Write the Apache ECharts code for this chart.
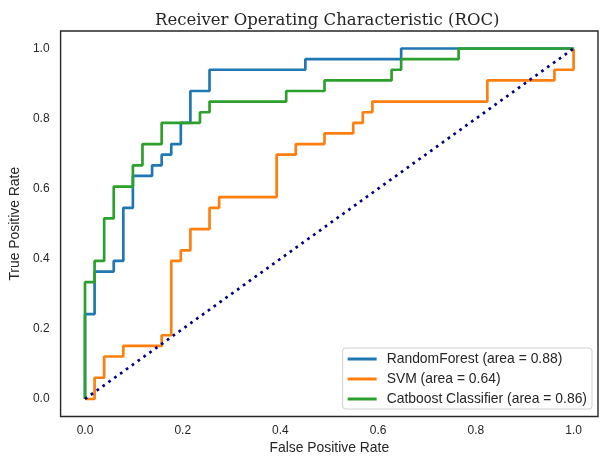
<!DOCTYPE html>
<html>
<head>
<meta charset="utf-8">
<script src="https://cdn.jsdelivr.net/npm/echarts@6/dist/echarts.min.js"></script>
<style>
html,body{margin:0;padding:0;background:#fff;}
#chart{width:609px;height:465px;}
</style>
</head>
<body>
<div id="chart"></div>
<script>
// Tick labels
var tickValues = [0.0, 0.2, 0.4, 0.6, 0.8, 1.0];

// RandomForest ROC (area = 0.88)
var rfFpr = [0, 0, 0.0196, 0.0196, 0.0588, 0.0588, 0.0784, 0.0784, 0.098, 0.098, 0.1373, 0.1373, 0.1569, 0.1569, 0.1765, 0.1765, 0.1961, 0.1961, 0.2157, 0.2157, 0.2549, 0.2549, 0.451, 0.451, 0.6471, 0.6471, 1.0];
var rfTpr = [0, 0.2424, 0.2424, 0.3636, 0.3636, 0.3939, 0.3939, 0.5455, 0.5455, 0.6364, 0.6364, 0.6667, 0.6667, 0.697, 0.697, 0.7273, 0.7273, 0.7879, 0.7879, 0.8788, 0.8788, 0.9394, 0.9394, 0.9697, 0.9697, 1.0, 1.0];

// SVM ROC (area = 0.64)
var svmFpr = [0, 0.0196, 0.0196, 0.0392, 0.0392, 0.0784, 0.0784, 0.1569, 0.1569, 0.1765, 0.1765, 0.1961, 0.1961, 0.2157, 0.2157, 0.2549, 0.2549, 0.2745, 0.2745, 0.3922, 0.3922, 0.4314, 0.4314, 0.4902, 0.4902, 0.549, 0.549, 0.5686, 0.5686, 0.5882, 0.5882, 0.8235, 0.8235, 0.9608, 0.9608, 1.0, 1.0];
var svmTpr = [0, 0, 0.0606, 0.0606, 0.1212, 0.1212, 0.1515, 0.1515, 0.1818, 0.1818, 0.3939, 0.3939, 0.4242, 0.4242, 0.4848, 0.4848, 0.5455, 0.5455, 0.5758, 0.5758, 0.697, 0.697, 0.7273, 0.7273, 0.7576, 0.7576, 0.7879, 0.7879, 0.8182, 0.8182, 0.8485, 0.8485, 0.9091, 0.9091, 0.9394, 0.9394, 1.0];

// Catboost Classifier ROC (area = 0.86)
var cbFpr = [0, 0, 0.0196, 0.0196, 0.0392, 0.0392, 0.0588, 0.0588, 0.098, 0.098, 0.1176, 0.1176, 0.1569, 0.1569, 0.2353, 0.2353, 0.2549, 0.2549, 0.4118, 0.4118, 0.4902, 0.4902, 0.6275, 0.6275, 0.6471, 0.6471, 0.7647, 0.7647, 1.0];
var cbTpr = [0, 0.3333, 0.3333, 0.3939, 0.3939, 0.5152, 0.5152, 0.6061, 0.6061, 0.6667, 0.6667, 0.7273, 0.7273, 0.7879, 0.7879, 0.8182, 0.8182, 0.8485, 0.8485, 0.8788, 0.8788, 0.9091, 0.9091, 0.9394, 0.9394, 0.9697, 0.9697, 1.0, 1.0];

// Chance diagonal
var diagX = [0, 1];
var diagY = [0, 1];

function zip(xs, ys) { return xs.map(function (x, i) { return [x, ys[i]]; }); }

var chart = echarts.init(document.getElementById('chart'), null, {renderer: 'canvas'});
var sans = '"Liberation Sans", Arial, sans-serif';
chart.setOption({
  animation: false,
  backgroundColor: '#ffffff',
  title: {
    text: 'Receiver Operating Characteristic (ROC)',
    left: 150, top: 7,
    textStyle: {fontFamily: '"DejaVu Serif", serif', fontWeight: 'normal', fontSize: 16.5, color: '#262626'}
  },
  grid: {left: 57.5, right: 11, top: 31, bottom: 48.5, show: true, borderColor: '#262626', borderWidth: 1.4, backgroundColor: 'transparent'},
  xAxis: {
    type: 'value', min: -0.05, max: 1.05,
    name: 'False Positive Rate', nameLocation: 'middle', nameGap: 24,
    nameTextStyle: {fontFamily: sans, fontSize: 13.9, color: '#262626'},
    axisLine: {show: false}, axisTick: {show: false}, splitLine: {show: false},
    axisLabel: {customValues: tickValues, formatter: function (v) { return v.toFixed(1); }, margin: 8, fontFamily: sans, fontSize: 12, color: '#262626'}
  },
  yAxis: {
    type: 'value', min: -0.05, max: 1.05,
    name: 'True Positive Rate', nameLocation: 'middle', nameGap: 35, nameRotate: 90,
    nameTextStyle: {fontFamily: sans, fontSize: 13.9, color: '#262626'},
    axisLine: {show: false}, axisTick: {show: false}, splitLine: {show: false},
    axisLabel: {customValues: tickValues, formatter: function (v) { return v.toFixed(1); }, margin: 11, fontFamily: sans, fontSize: 12, color: '#262626'}
  },
  legend: {
    orient: 'vertical', right: 17, bottom: 56,
    data: ['RandomForest (area = 0.88)', 'SVM (area = 0.64)', 'Catboost Classifier (area = 0.86)'],
    icon: 'rect', itemWidth: 29, itemHeight: 3, itemGap: 6,
    padding: [4, 5, 3, 5],
    backgroundColor: '#ffffff', borderColor: '#d0d0d0', borderWidth: 1, borderRadius: 3,
    textStyle: {fontFamily: sans, fontSize: 13.9, color: '#262626', lineHeight: 14, padding: [0, 0, 0, 5]}
  },
  series: [
    {name: 'RandomForest (area = 0.88)', type: 'line', data: zip(rfFpr, rfTpr), showSymbol: false, color: '#1f77b4', lineStyle: {width: 2.7, color: '#1f77b4'}},
    {name: 'SVM (area = 0.64)', type: 'line', data: zip(svmFpr, svmTpr), showSymbol: false, color: '#ff7f0e', lineStyle: {width: 2.7, color: '#ff7f0e'}},
    {name: 'Catboost Classifier (area = 0.86)', type: 'line', data: zip(cbFpr, cbTpr), showSymbol: false, color: '#2ca02c', lineStyle: {width: 2.7, color: '#2ca02c'}},
    {name: 'chance', type: 'line', data: zip(diagX, diagY), showSymbol: false, color: '#000080', lineStyle: {width: 2.7, color: '#000080', type: [2.7, 4.5]}}
  ]
});
</script>
</body>
</html>
